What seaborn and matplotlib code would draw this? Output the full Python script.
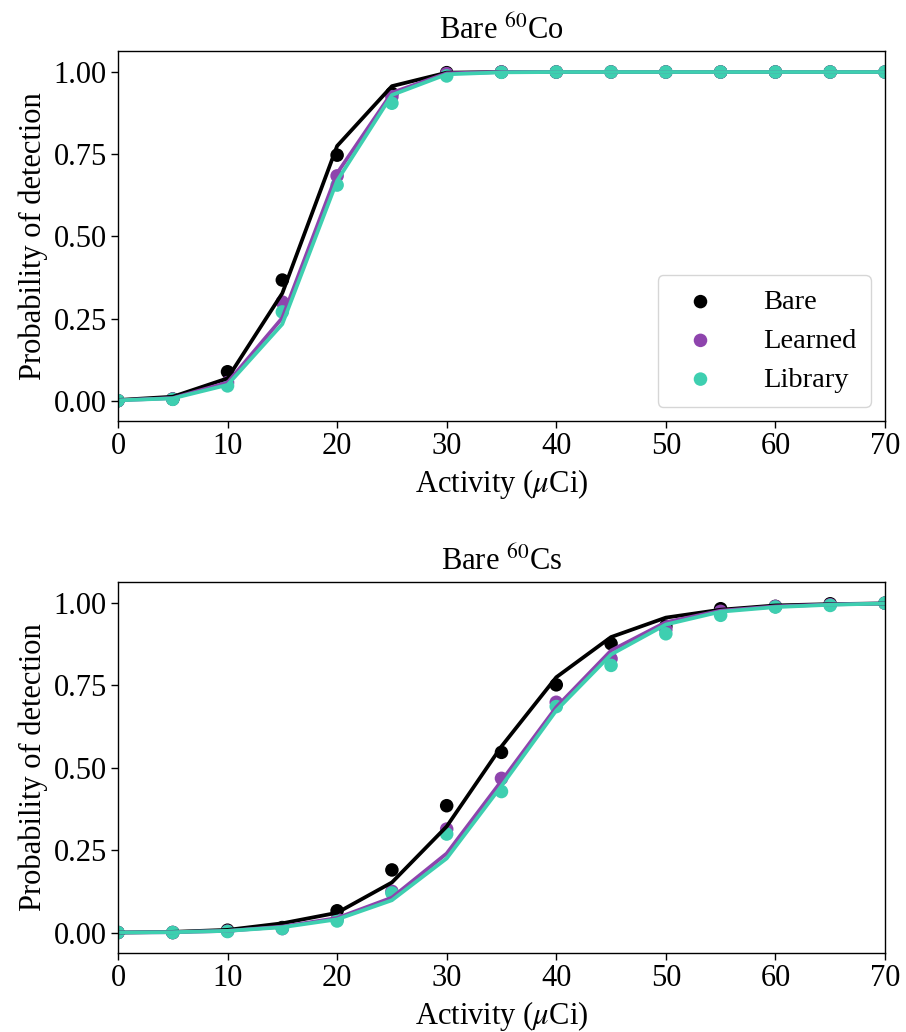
import numpy as np
import pandas as pd
import matplotlib
matplotlib.use("Agg")
import matplotlib.pyplot as plt
import seaborn as sns

sns.set_style("ticks")
plt.rcParams['font.family'] = ['Liberation Serif', 'DejaVu Serif']
plt.rcParams['mathtext.fontset'] = 'stix'
for k in ['text.color', 'axes.labelcolor', 'xtick.color', 'ytick.color', 'axes.edgecolor']:
    plt.rcParams[k] = 'black'

activity = [0, 5, 10, 15, 20, 25, 30, 35, 40, 45, 50, 55, 60, 65, 70]

# Top panel: Bare 60Co
co_bare_pts = [0.0, 0.005, 0.088, 0.367, 0.747, 0.935, 0.998, 1.0, 1.0, 1.0, 1.0, 1.0, 1.0, 1.0, 1.0]
co_learned_pts = [0.0, 0.005, 0.055, 0.30, 0.684, 0.925, 0.995, 1.0, 1.0, 1.0, 1.0, 1.0, 1.0, 1.0, 1.0]
co_library_pts = [0.0, 0.004, 0.045, 0.27, 0.656, 0.905, 0.988, 0.999, 1.0, 1.0, 1.0, 1.0, 1.0, 1.0, 1.0]
co_bare_fit = [0.002, 0.012, 0.068, 0.327, 0.775, 0.957, 0.998, 1.0, 1.0, 1.0, 1.0, 1.0, 1.0, 1.0, 1.0]
co_learned_fit = [0.001, 0.008, 0.055, 0.252, 0.692, 0.937, 0.996, 1.0, 1.0, 1.0, 1.0, 1.0, 1.0, 1.0, 1.0]
co_library_fit = [0.001, 0.007, 0.048, 0.233, 0.669, 0.930, 0.993, 0.999, 1.0, 1.0, 1.0, 1.0, 1.0, 1.0, 1.0]

# Bottom panel: Bare 60Cs
cs_bare_pts = [0.0, 0.0, 0.007, 0.015, 0.066, 0.19, 0.385, 0.547, 0.752, 0.877, 0.93, 0.983, 0.99, 0.998, 1.0]
cs_learned_pts = [0.0, 0.0, 0.004, 0.012, 0.04, 0.125, 0.314, 0.468, 0.699, 0.831, 0.92, 0.975, 0.99, 0.995, 1.0]
cs_library_pts = [0.0, 0.0, 0.003, 0.012, 0.035, 0.12, 0.299, 0.428, 0.686, 0.811, 0.907, 0.963, 0.988, 0.993, 1.0]
cs_bare_fit = [0.0, 0.002, 0.008, 0.028, 0.06, 0.152, 0.322, 0.565, 0.775, 0.897, 0.956, 0.98, 0.993, 0.997, 0.999]
cs_learned_fit = [0.0, 0.001, 0.005, 0.018, 0.044, 0.106, 0.24, 0.46, 0.684, 0.856, 0.942, 0.977, 0.99, 0.996, 0.999]
cs_library_fit = [0.0, 0.001, 0.005, 0.016, 0.04, 0.098, 0.225, 0.445, 0.674, 0.844, 0.935, 0.974, 0.988, 0.995, 0.999]

series = ["Bare", "Learned", "Library"]
colors = {"Bare": "#000000", "Learned": "#8e44ad", "Library": "#3ecfb0"}

titles = ["Bare $^{60}$Co", "Bare $^{60}$Cs"]
panels = [
    ([co_bare_pts, co_learned_pts, co_library_pts], [co_bare_fit, co_learned_fit, co_library_fit]),
    ([cs_bare_pts, cs_learned_pts, cs_library_pts], [cs_bare_fit, cs_learned_fit, cs_library_fit]),
]

fig = plt.figure(figsize=(9.06, 10.32), dpi=100)
ax_top = fig.add_axes([0.1302, 0.592, 0.8466, 0.3586])
ax_bot = fig.add_axes([0.1302, 0.0766, 0.8466, 0.3594])

FS = 22
for ax, title, (pts, fits) in zip([ax_top, ax_bot], titles, panels):
    for name, p, f in zip(series, pts, fits):
        df = pd.DataFrame({"x": activity, "p": p, "f": f})
        sns.lineplot(data=df, x="x", y="f", ax=ax, color=colors[name], linewidth=2.7, legend=False)
        sns.scatterplot(data=df, x="x", y="p", ax=ax, color=colors[name], s=95, edgecolor="none", label=name)
    ax.set_xlim(0, 70)
    ax.set_ylim(-0.062, 1.064)
    ax.set_xticks(np.arange(0, 71, 10))
    ax.set_yticks([0.0, 0.25, 0.5, 0.75, 1.0])
    ax.set_yticklabels(["0.00", "0.25", "0.50", "0.75", "1.00"])
    ax.tick_params(labelsize=FS, length=5, width=1, direction="out", pad=3)
    ax.set_xlabel("Activity ($\\mu$Ci)", fontsize=FS, labelpad=4)
    ax.set_ylabel("Probability of detection", fontsize=FS, labelpad=4)
    ax.set_title(title, fontsize=FS, pad=9)
    for sp in ax.spines.values():
        sp.set_linewidth(1.0)
        sp.set_visible(True)

ax_top.legend(loc="lower right", fontsize=20.5, frameon=True, borderpad=0.5,
              handletextpad=1.2, labelspacing=0.45, borderaxespad=0.5)
if ax_bot.get_legend():
    ax_bot.get_legend().remove()

fig.savefig("out.png", dpi=100)
